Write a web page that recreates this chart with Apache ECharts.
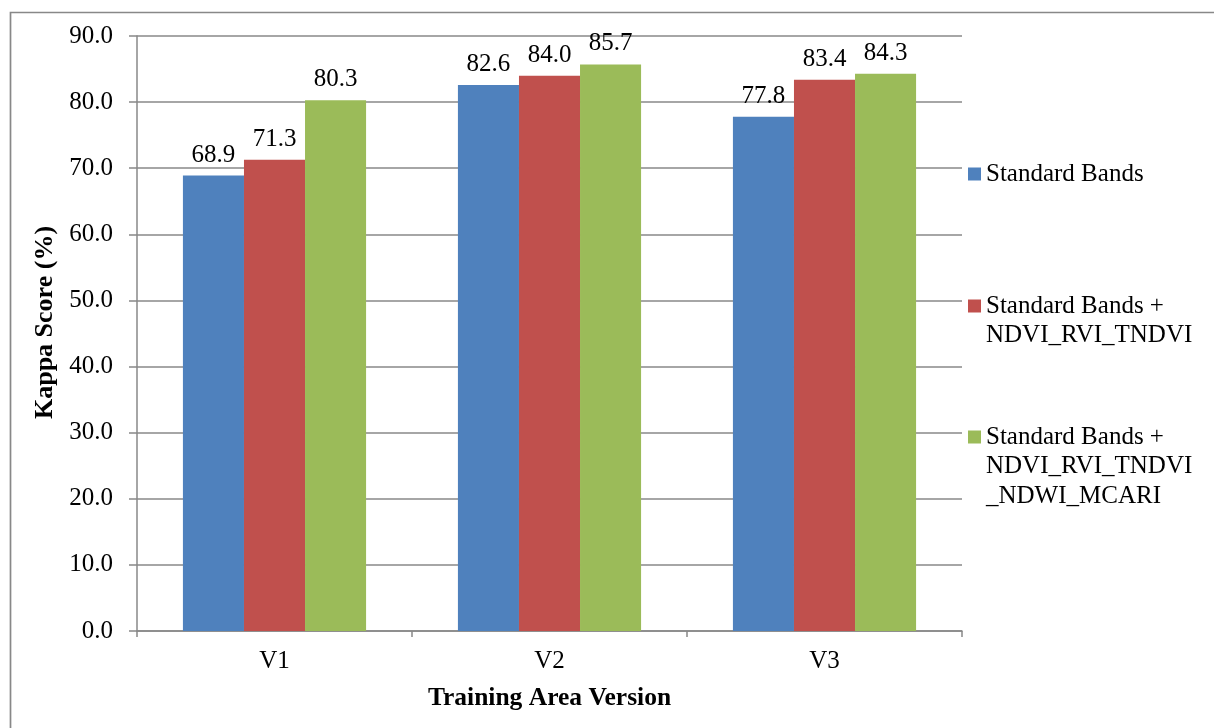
<!DOCTYPE html>
<html><head><meta charset="utf-8">
<script src="https://cdn.jsdelivr.net/npm/echarts@6/dist/echarts.min.js"></script>
<style>html,body{margin:0;padding:0;background:#fff}#c{width:1214px;height:728px}</style>
</head><body><div id="c"></div>
<script>
const categories = ['V1', 'V2', 'V3'];
const seriesNames = [
  'Standard Bands',
  'Standard Bands +\nNDVI_RVI_TNDVI',
  'Standard Bands +\nNDVI_RVI_TNDVI\n_NDWI_MCARI'
];
const standardBands = [68.9, 82.6, 77.8];
const bandsNdviRviTndvi = [71.3, 84.0, 83.4];
const bandsAllIndices = [80.3, 85.7, 84.3];
const colors = ['#4F81BD', '#C0504D', '#9BBB59'];

const FONT = '"Liberation Serif", "Times New Roman", serif';
const FS = 25;
const LH = 29.5;
const gray = '#888888';

const chart = echarts.init(document.getElementById('c'), null, {renderer: 'canvas'});
const values = [standardBands, bandsNdviRviTndvi, bandsAllIndices];
const iconCenters = [174, 306, 437];

const option = {
  backgroundColor: '#ffffff',
  animation: false,
  textStyle: {fontFamily: FONT},
  graphic: [{
    type: 'rect', left: 8, top: 10, z: -1,
    shape: {width: 1400, height: 900},
    style: {fill: 'none', stroke: gray, lineWidth: 1.7}
  }],
  grid: {left: 137, right: 252, top: 36, bottom: 97, containLabel: false},
  legend: seriesNames.map((n, i) => {
    const lines = n.split('\n').length;
    const boxLines = 2 * lines - 1;
    return {
      orient: 'vertical',
      left: 968,
      top: iconCenters[i] - boxLines * LH / 2,
      padding: 0,
      data: [n],
      itemWidth: 13,
      itemHeight: 13,
      icon: 'rect',
      selectedMode: false,
      formatter: name => '\n'.repeat(lines - 1) + name,
      textStyle: {fontFamily: FONT, fontSize: FS, color: '#000', lineHeight: LH}
    };
  }),
  xAxis: {
    type: 'category',
    data: categories,
    name: 'Training Area Version',
    nameLocation: 'middle',
    nameGap: 54,
    nameTextStyle: {fontFamily: FONT, fontSize: 25.5, fontWeight: 'bold', color: '#000'},
    axisLine: {lineStyle: {color: gray, width: 1.5}},
    axisTick: {show: true, length: 6, lineStyle: {color: gray, width: 1.5}},
    axisLabel: {fontFamily: FONT, fontSize: FS, color: '#000', margin: 18}
  },
  yAxis: {
    type: 'value',
    min: 0, max: 90, interval: 10,
    name: 'Kappa Score (%)',
    nameLocation: 'middle',
    nameGap: 67,
    nameTextStyle: {fontFamily: FONT, fontSize: 26, fontWeight: 'bold', color: '#000',
      padding: [0, 0, 0, 22]},
    axisLine: {show: true, lineStyle: {color: gray, width: 1.5}},
    axisTick: {show: true, length: 8, lineStyle: {color: gray, width: 1.5}},
    axisLabel: {fontFamily: FONT, fontSize: FS, color: '#000', margin: 24,
      formatter: v => v.toFixed(1)},
    splitLine: {show: true, lineStyle: {color: gray, width: 1.5}}
  },
  series: seriesNames.map((n, i) => ({
    type: 'bar',
    name: n,
    data: values[i],
    barGap: '0%',
    barCategoryGap: '33.4%',
    itemStyle: {color: colors[i]},
    label: {
      show: true, position: 'top', distance: 8,
      fontFamily: FONT, fontSize: FS, color: '#000',
      formatter: p => p.value.toFixed(1)
    }
  }))
};
chart.setOption(option);
</script>
</body></html>
